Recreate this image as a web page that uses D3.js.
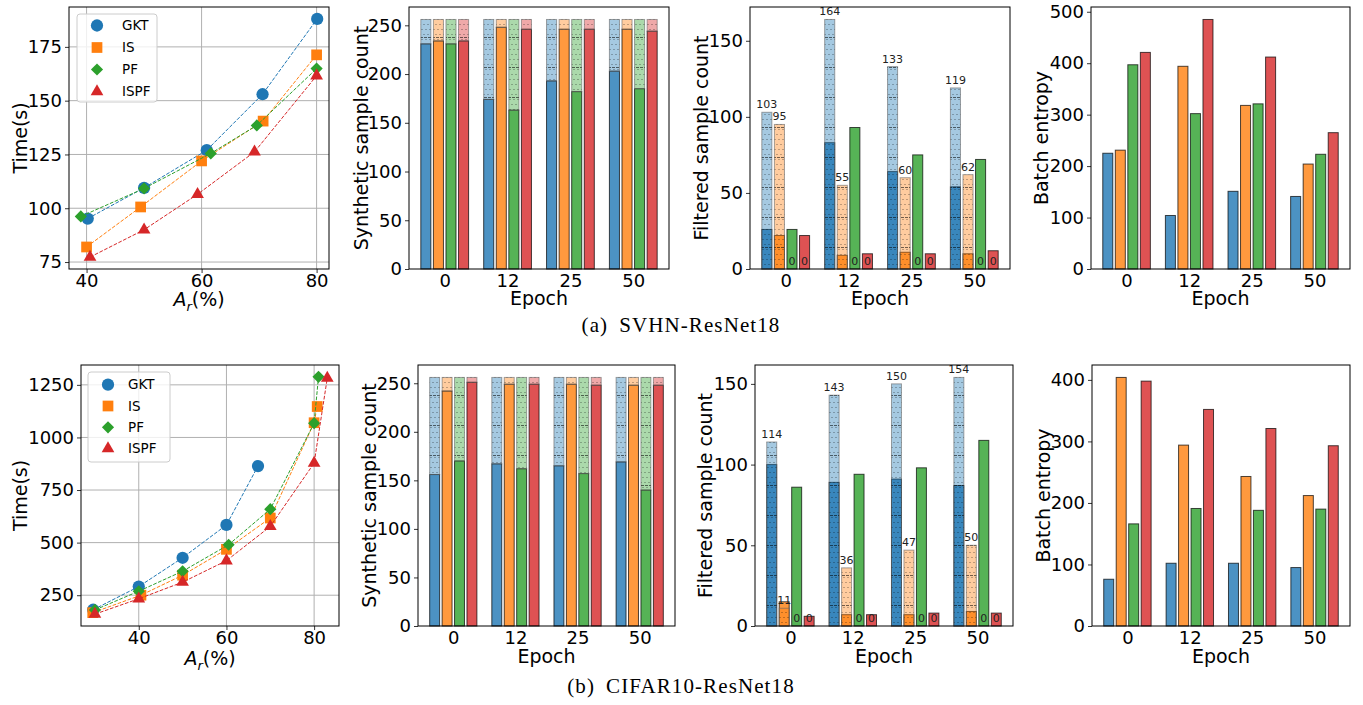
<!DOCTYPE html>
<html>
<head>
<meta charset="utf-8">
<script src="https://cdn.jsdelivr.net/npm/d3@7"></script>
<style>
body { margin: 0; background: #fff; }
svg { font-family: 'DejaVu Sans', sans-serif; }
</style>
</head>
<body>
<svg id="fig" width="1363" height="705"></svg>
<script>
// series order everywhere: GKT, IS, PF, ISPF
const methods = ['GKT', 'IS', 'PF', 'ISPF'];
const epochs = ['0', '12', '25', '50'];
const colors = ['#1f77b4', '#ff7f0e', '#2ca02c', '#d62728'];

// time vs A_r, [A_r, seconds]
const svhnTimeGKT = [[40.2, 95.2], [50, 109.5], [60.9, 127], [70.6, 153], [80.1, 188]];
const svhnTimeIS = [[40, 82], [49.4, 100.6], [60, 122], [70.7, 140.5], [80, 171.3]];
const svhnTimePF = [[39, 96.2], [50, 109.2], [61.6, 125.5], [69.6, 138.5], [80, 164.9]];
const svhnTimeISPF = [[40.6, 77.3], [50, 90], [59.3, 106.5], [69.2, 126.2], [80, 161.6]];

const cifarTimeGKT = [[29.6, 181], [40, 291], [50, 428], [60, 584], [67.2, 864]];
const cifarTimeIS = [[29.5, 167], [40.5, 250], [50, 345], [60, 468], [70, 617], [80, 1070], [80.7, 1147]];
const cifarTimePF = [[30, 180], [40, 269], [50, 364], [60.5, 490], [70, 659], [80, 1068], [81, 1288]];
const cifarTimeISPF = [[30, 160], [40, 233], [50, 312], [60, 414], [70, 577], [80, 878], [83, 1282]];

// synthetic sample count per epoch (solid part), total is the batch
const synthTotal = [[256, 256, 256, 256], [256, 256, 256, 256], [256, 256, 256, 256], [256, 256, 256, 256]];
const svhnSynth = [[231, 174, 193, 203], [234, 248, 246, 246], [231, 163, 182, 185], [234, 246, 246, 244]];
const cifarSynth = [[156, 167, 165, 169], [242, 249, 249, 248], [170, 162, 157, 140], [251, 249, 248, 248]];

// filtered sample count: hatched totals and solid parts
const svhnFiltTotal = [[103, 164, 133, 119], [95, 55, 60, 62], [0, 0, 0, 0], [0, 0, 0, 0]];
const svhnFilt = [[26, 83, 64, 54], [22, 9, 11, 10], [26, 93, 75, 72], [22, 10, 10, 12]];
const cifarFiltTotal = [[114, 143, 150, 154], [11, 36, 47, 50], [0, 0, 0, 0], [0, 0, 0, 0]];
const cifarFilt = [[100, 89, 91, 87], [15, 7, 7, 9], [86, 94, 98, 115], [6, 7, 8, 8]];

// batch entropy
const svhnEnt = [[225, 104, 151, 141], [231, 394, 318, 204], [397, 302, 321, 223], [421, 485, 412, 265]];
const cifarEnt = [[76, 102, 102, 95], [404, 294, 243, 212], [166, 191, 188, 190], [398, 352, 321, 293]];

// tick labels
const arTicks = [40, 60, 80];
const svhnTimeTicks = [75, 100, 125, 150, 175];
const cifarTimeTicks = [250, 500, 750, 1000, 1250];
const synthTicks = [0, 50, 100, 150, 200, 250];
const filtTicks = [0, 50, 100, 150];
const svhnEntTicks = [0, 100, 200, 300, 400, 500];
const cifarEntTicks = [0, 100, 200, 300, 400];

const svg = d3.select('#fig');
const tickFont = 18;
const labelFont = 19;
const fmt = d3.format('d');

const defs = svg.append('defs');
const pat = defs
    .append('pattern')
    .attr('id', 'dots')
    .attr('width', 4)
    .attr('height', 30)
    .attr('patternUnits', 'userSpaceOnUse');
for (let r = 0; r < 6; r++) {
    pat.append('circle')
        .attr('cx', r % 2 ? 3 : 1)
        .attr('cy', 2.5 + r * 5)
        .attr('r', 0.6)
        .attr('fill', '#000')
        .attr('fill-opacity', 0.55);
}
pat.append('line')
    .attr('x1', 0).attr('x2', 4).attr('y1', 0.5).attr('y2', 0.5)
    .attr('stroke', '#000')
    .attr('stroke-opacity', 0.55)
    .attr('stroke-dasharray', '2,1');

function panel(box) {
    const [x0, y0, x1, y1] = box;
    const g = svg.append('g').attr('transform', 'translate(' + x0 + ',' + y0 + ')');
    return { g, x0, y0, w: x1 - x0, h: y1 - y0 };
}

function styleAxis(sel) {
    sel.select('.domain').remove();
    sel.selectAll('text').attr('font-size', tickFont).attr('fill', '#000').attr('font-family', 'DejaVu Sans');
    sel.selectAll('line').attr('stroke', '#000').attr('stroke-width', 0.8);
}

function frame(p) {
    p.g.append('rect')
        .attr('width', p.w)
        .attr('height', p.h)
        .attr('fill', 'none')
        .attr('stroke', '#000')
        .attr('stroke-width', 1);
}

function yLabel(p, cx, text) {
    p.g.append('text')
        .attr('transform', 'translate(' + (cx - p.x0) + ',' + p.h / 2 + ') rotate(-90)')
        .attr('text-anchor', 'middle')
        .attr('dy', '0.35em')
        .attr('font-size', labelFont)
        .text(text);
}

function xLabel(p, cy, text) {
    return p.g.append('text')
        .attr('x', p.w / 2)
        .attr('y', cy - p.y0)
        .attr('text-anchor', 'middle')
        .attr('dy', '0.35em')
        .attr('font-size', labelFont)
        .text(text);
}

function marker(i) {
    if (i === 0) return d3.symbol(d3.symbolCircle, 118)();
    if (i === 1) return d3.symbol(d3.symbolSquare, 115)();
    if (i === 2) return d3.symbol(d3.symbolSquare, 74)();
    return d3.symbol(d3.symbolTriangle, 70)();
}
function markerRot(i) {
    return i === 2 ? ' rotate(45)' : '';
}

function linePanel(box, series, xTicks, yTicks, yLabelX, xLabelY, legendBox, legendRows) {
    const p = panel(box);
    const all = series.flat();
    const xe = d3.extent(all, d => d[0]);
    const ye = d3.extent(all, d => d[1]);
    const xp = (xe[1] - xe[0]) * 0.05, yp = (ye[1] - ye[0]) * 0.05;
    const x = d3.scaleLinear().domain([xe[0] - xp, xe[1] + xp]).range([0, p.w]);
    const y = d3.scaleLinear().domain([ye[0] - yp, ye[1] + yp]).range([p.h, 0]);

    const grid = p.g.append('g').attr('stroke', '#b0b0b0').attr('stroke-width', 1);
    grid.selectAll('.gx').data(xTicks).enter().append('line')
        .attr('x1', d => x(d)).attr('x2', d => x(d)).attr('y1', 0).attr('y2', p.h);
    grid.selectAll('.gy').data(yTicks).enter().append('line')
        .attr('y1', d => y(d)).attr('y2', d => y(d)).attr('x1', 0).attr('x2', p.w);

    p.g.append('g').attr('transform', 'translate(0,' + p.h + ')')
        .call(d3.axisBottom(x).tickValues(xTicks).tickFormat(fmt).tickSize(4).tickPadding(1))
        .call(styleAxis);
    p.g.append('g')
        .call(d3.axisLeft(y).tickValues(yTicks).tickFormat(fmt).tickSize(4).tickPadding(3))
        .call(styleAxis);

    const line = d3.line().x(d => x(d[0])).y(d => y(d[1]));
    series.forEach((s, i) => {
        p.g.append('path')
            .attr('d', line(s))
            .attr('fill', 'none')
            .attr('stroke', colors[i])
            .attr('stroke-width', 1)
            .attr('stroke-dasharray', '3.7,1.6');
        p.g.selectAll('.m' + i).data(s).enter().append('path')
            .attr('d', marker(i))
            .attr('transform', d => 'translate(' + x(d[0]) + ',' + y(d[1]) + ')' + markerRot(i))
            .attr('fill', colors[i]);
    });
    frame(p);

    const [lx, ly, lw, lh, mx, tx] = legendBox;
    const lg = p.g.append('g').attr('transform', 'translate(' + (lx - p.x0) + ',' + (ly - p.y0) + ')');
    lg.append('rect')
        .attr('width', lw).attr('height', lh)
        .attr('rx', 3)
        .attr('fill', '#fff').attr('fill-opacity', 0.8)
        .attr('stroke', '#ccc');
    methods.forEach((m, i) => {
        const ry = legendRows[0] + i * legendRows[1];
        lg.append('path')
            .attr('d', marker(i))
            .attr('transform', 'translate(' + mx + ',' + ry + ')' + markerRot(i))
            .attr('fill', colors[i]);
        lg.append('text')
            .attr('x', tx).attr('y', ry).attr('dy', '0.35em')
            .attr('font-size', 13.5)
            .text(m);
    });

    yLabel(p, yLabelX, 'Time(s)');
    const xl = xLabel(p, xLabelY, '');
    xl.append('tspan').attr('font-style', 'italic').text('A');
    xl.append('tspan').attr('font-style', 'italic').attr('font-size', 13).attr('dy', 5).text('r');
    xl.append('tspan').attr('dy', -5).text('(%)');
}

function barPanel(box, solid, light, mode, yTicks, yLabelX, xLabelY, title) {
    const p = panel(box);
    const bw = 0.16, step = 0.2;
    const lo = -1.5 * step - bw / 2, hi = epochs.length - 1 + 1.5 * step + bw / 2;
    const pad = (hi - lo) * 0.05;
    const x = d3.scaleLinear().domain([lo - pad, hi + pad]).range([0, p.w]);
    const ymax = d3.max(solid.concat(light || []).flat()) * 1.05;
    const y = d3.scaleLinear().domain([0, ymax]).range([p.h, 0]);
    const bx = (e, m) => x(e + (m - 1.5) * step - bw / 2);
    const bwPx = x(bw) - x(0);

    p.g.append('g')
        .call(d3.axisLeft(y).tickValues(yTicks).tickFormat(fmt).tickSize(4).tickPadding(3))
        .call(styleAxis);
    p.g.append('g').attr('transform', 'translate(0,' + p.h + ')')
        .call(d3.axisBottom(x).tickValues(d3.range(epochs.length)).tickFormat(i => epochs[i]).tickSize(0).tickPadding(5))
        .call(styleAxis);

    solid.forEach((vals, m) => {
        p.g.selectAll('.s' + m).data(vals).enter().append('rect')
            .attr('x', (d, e) => bx(e, m))
            .attr('width', bwPx)
            .attr('y', d => y(d))
            .attr('height', d => y(0) - y(d))
            .attr('fill', colors[m]).attr('fill-opacity', 0.8)
            .attr('stroke', '#000').attr('stroke-opacity', 0.7).attr('stroke-width', 1);
    });

    if (light) {
        light.forEach((vals, m) => {
            const base = (d, e) => (mode === 'stack' ? solid[m][e] : 0);
            const sel = p.g.selectAll('.l' + m).data(vals).enter().append('g');
            sel.append('rect')
                .attr('x', (d, e) => bx(e, m))
                .attr('width', bwPx)
                .attr('y', d => y(d))
                .attr('height', (d, e) => y(base(d, e)) - y(d))
                .attr('fill', colors[m]).attr('fill-opacity', 0.4)
                .attr('stroke', '#666').attr('stroke-opacity', 0.6).attr('stroke-width', 1);
            sel.append('rect')
                .attr('x', (d, e) => bx(e, m))
                .attr('width', bwPx)
                .attr('y', d => y(d))
                .attr('height', (d, e) => y(base(d, e)) - y(d))
                .attr('fill', 'url(#dots)');
            if (mode === 'label') {
                sel.append('text')
                    .attr('x', (d, e) => bx(e, m) + bwPx / 2)
                    .attr('y', d => y(d) - 4)
                    .attr('text-anchor', 'middle')
                    .attr('font-size', 11)
                    .attr('fill', '#222')
                    .text(d => d);
            }
        });
    }
    frame(p);
    yLabel(p, yLabelX, title);
    xLabel(p, xLabelY, 'Epoch');
}

// (a) SVHN-ResNet18
linePanel([69, 7, 329, 269], [svhnTimeGKT, svhnTimeIS, svhnTimePF, svhnTimeISPF],
    arTicks, svhnTimeTicks, 20, 299.5, [77, 14, 80, 88, 20, 45], [11.5, 22]);
barPanel([409, 7, 669, 269], svhnSynth, synthTotal, 'stack', synthTicks, 361, 298, 'Synthetic sample count');
barPanel([750, 7, 1010, 269], svhnFilt, svhnFiltTotal, 'label', filtTicks, 701, 298, 'Filtered sample count');
barPanel([1091, 7, 1350, 269], svhnEnt, null, null, svhnEntTicks, 1041, 298, 'Batch entropy');

// (b) CIFAR10-ResNet18
linePanel([81, 365, 339, 626], [cifarTimeGKT, cifarTimeIS, cifarTimePF, cifarTimeISPF],
    arTicks, cifarTimeTicks, 20, 658, [88, 372, 82, 90, 20, 40], [12.7, 21.3]);
barPanel([418, 365, 675, 626], cifarSynth, synthTotal, 'stack', synthTicks, 369, 656, 'Synthetic sample count');
barPanel([755, 365, 1013, 626], cifarFilt, cifarFiltTotal, 'label', filtTicks, 705, 656, 'Filtered sample count');
barPanel([1092, 365, 1350, 626], cifarEnt, null, null, cifarEntTicks, 1043, 656, 'Batch entropy');

// captions
function caption(cy, tag, text) {
    const t = svg.append('text')
        .attr('x', 681).attr('y', cy)
        .attr('text-anchor', 'middle')
        .attr('font-family', 'Liberation Serif, Times New Roman, serif')
        .attr('font-size', 21)
        .attr('letter-spacing', 1.1);
    t.append('tspan').text(tag);
    t.append('tspan').attr('dx', 11).text(text);
}
caption(332, '(a)', 'SVHN-ResNet18');
caption(693, '(b)', 'CIFAR10-ResNet18');
</script>
</body>
</html>
